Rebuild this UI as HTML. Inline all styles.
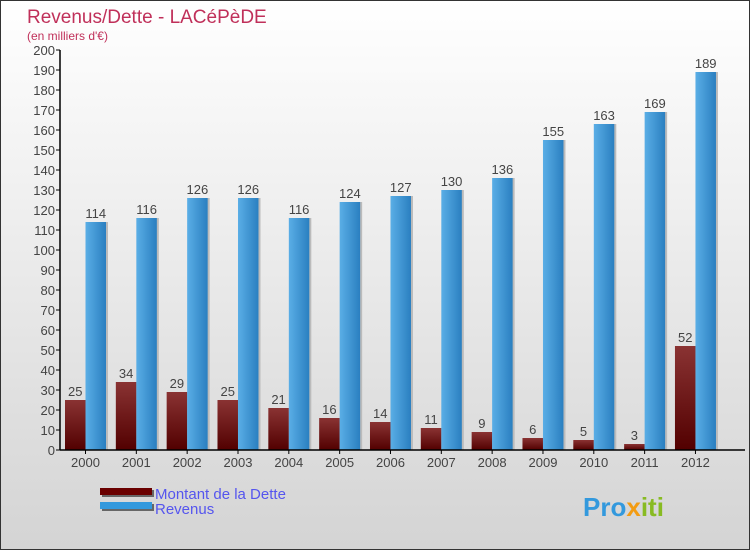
<!DOCTYPE html>
<html><head><meta charset="utf-8"><style>
html,body{margin:0;padding:0}
body{width:750px;height:550px;overflow:hidden;font-family:"Liberation Sans",sans-serif}
</style></head><body>
<svg id="chart" width="750" height="550" xmlns="http://www.w3.org/2000/svg">
<defs>
<linearGradient id="bg" x1="0" y1="0" x2="0" y2="1"><stop offset="0" stop-color="#ffffff"/><stop offset="1" stop-color="#d4d4d4"/></linearGradient>
<linearGradient id="debtG" x1="0" y1="0" x2="0" y2="1"><stop offset="0" stop-color="#8a3333"/><stop offset="1" stop-color="#520000"/></linearGradient>
<linearGradient id="revG" x1="0" y1="0" x2="1" y2="0"><stop offset="0" stop-color="#5aaee6"/><stop offset="1" stop-color="#2a7fc0"/></linearGradient>
</defs>
<rect x="0.5" y="0.5" width="749" height="549" fill="url(#bg)" stroke="#333"/>
<text x="27" y="23" font-size="19" fill="#c0305a">Revenus/Dette - LACéPèDE</text>
<text x="27" y="40" font-size="12" fill="#c0305a">(en milliers d'€)</text>
<g id="grid"></g>
<g id="bars"></g>
<g id="axes"></g>
<g>
<rect x="102" y="490" width="52" height="7" fill="#666"/>
<rect x="100" y="488" width="52" height="7" fill="#6a0000"/>
<text x="155" y="499" font-size="15" fill="#5555ee">Montant de la Dette</text>
<rect x="102" y="504" width="52" height="7" fill="#666"/>
<rect x="100" y="502" width="52" height="7" fill="#3399dd"/>
<text x="155" y="514" font-size="15" fill="#5555ee">Revenus</text>
</g>
<text x="583" y="516" font-size="26" font-weight="bold" fill="#3399dd">Pro<tspan fill="#f39c12">x</tspan><tspan fill="#88bb22">iti</tspan></text>
</svg>
<script>
const years=["2000","2001","2002","2003","2004","2005","2006","2007","2008","2009","2010","2011","2012"];
const debt=[25,34,29,25,21,16,14,11,9,6,5,3,52];
const revenue=[114,116,126,126,116,124,127,130,136,155,163,169,189];
const yTicks=[0,10,20,30,40,50,60,70,80,90,100,110,120,130,140,150,160,170,180,190,200];
const NS="http://www.w3.org/2000/svg";
const y0=450,yTop=50,yMax=200,axisX=60,step=50.83,bw=20.5;
const y=v=>y0-(v/yMax)*(y0-yTop);
const xc=i=>65+i*step+bw;
function mk(t,a,p){const e=document.createElementNS(NS,t);for(const k in a)e.setAttribute(k,a[k]);p.appendChild(e);return e;}
const ax=document.getElementById('axes'),bars=document.getElementById('bars');
yTicks.forEach(v=>{
 const l=mk('line',{x1:axisX-4,x2:axisX,y1:y(v),y2:y(v),stroke:'#000'},ax);
 
 
 const t=mk('text',{x:axisX-5,y:y(v)+5,'text-anchor':'end','font-size':13,fill:'#444'},ax);
 
 
 t.textContent=v;
});
years.forEach((yr,i)=>{
 const c=xc(i);
 const sd=mk('rect',{x:c-bw+2,y:y(debt[i]),width:bw,height:y0-y(debt[i]),fill:'#bbb'},bars);
 const d=mk('rect',{x:c-bw,y:y(debt[i]),width:bw,height:y0-y(debt[i]),fill:'url(#debtG)'},bars);
 
 
 const sr=mk('rect',{x:c+2,y:y(revenue[i]),width:bw,height:y0-y(revenue[i]),fill:'#bbb'},bars);
 const r=mk('rect',{x:c,y:y(revenue[i]),width:bw,height:y0-y(revenue[i]),fill:'url(#revG)'},bars);
 
 
 const dl=mk('text',{x:c-bw/2,y:y(debt[i])-4,'text-anchor':'middle','font-size':13,fill:'#444'},bars);
 
 
 dl.textContent=debt[i];
 const rl=mk('text',{x:c+bw/2,y:y(revenue[i])-4,'text-anchor':'middle','font-size':13,fill:'#444'},bars);
 
 
 rl.textContent=revenue[i];
 const tk=mk('line',{x1:c,x2:c,y1:y0,y2:y0+4,stroke:'#000'},ax);
 
 
 const xl=mk('text',{x:c,y:y0+17,'text-anchor':'middle','font-size':13,fill:'#444'},ax);
 
 
 xl.textContent=yr;
});
const ya=mk('line',{x1:axisX,x2:axisX,y1:yTop,y2:y0,stroke:'#000','stroke-width':1.5},ax);


const xa=mk('line',{x1:axisX,x2:745,y1:y0,y2:y0,stroke:'#000','stroke-width':1.5},ax);


</script>
</body></html>
